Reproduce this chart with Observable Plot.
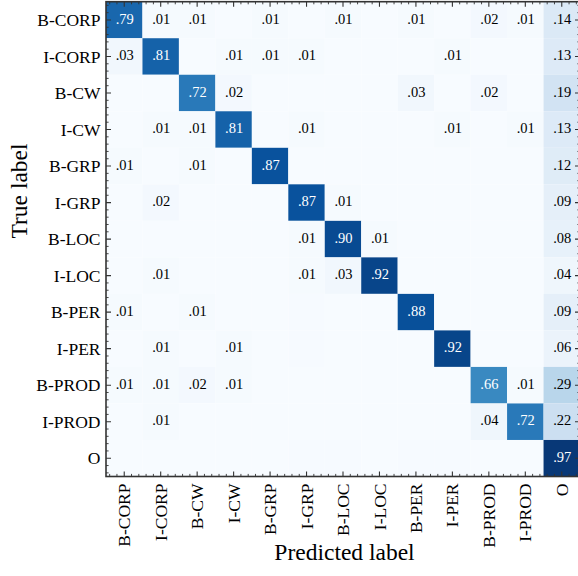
<!DOCTYPE html>
<html><head><meta charset="utf-8">
<script src="https://cdn.jsdelivr.net/npm/d3@7"></script>
<script src="https://cdn.jsdelivr.net/npm/@observablehq/plot@0.6"></script>
<style>
html,body{margin:0;padding:0;background:#fff;}
#chart svg{display:block;}
#chart svg, #chart svg text{font-family:"Liberation Serif", serif !important;}
</style>
</head><body><div id="chart"></div>
<script>
// Tick labels (true label rows, predicted label columns share the same classes)
const labels = ["B-CORP","I-CORP","B-CW","I-CW","B-GRP","I-GRP","B-LOC","I-LOC","B-PER","I-PER","B-PROD","I-PROD","O"];
// One row of normalised values per true label (columns in label order)
const rowBCORP = [.79,.01,.01,0,.01,0,.01,0,.01,0,.02,.01,.14];
const rowICORP = [.03,.81,0,.01,.01,.01,0,0,0,.01,0,0,.13];
const rowBCW   = [0,0,.72,.02,0,0,0,0,.03,0,.02,0,.19];
const rowICW   = [0,.01,.01,.81,0,.01,0,0,0,.01,0,.01,.13];
const rowBGRP  = [.01,0,.01,0,.87,0,0,0,0,0,0,0,.12];
const rowIGRP  = [0,.02,0,0,0,.87,.01,0,0,0,0,0,.09];
const rowBLOC  = [0,0,0,0,0,.01,.90,.01,0,0,0,0,.08];
const rowILOC  = [0,.01,0,0,0,.01,.03,.92,0,0,0,0,.04];
const rowBPER  = [.01,0,.01,0,0,.004,0,0,.88,0,0,0,.09];
const rowIPER  = [0,.01,0,.01,0,.004,0,0,0,.92,0,0,.06];
const rowBPROD = [.01,.01,.02,.01,0,0,0,0,0,0,.66,.01,.29];
const rowIPROD = [0,.01,0,0,0,0,0,0,0,0,.04,.72,.22];
const rowO     = [0,0,0,0,0,.004,.004,0,.004,.004,0,0,.97];

const rows = [rowBCORP,rowICORP,rowBCW,rowICW,rowBGRP,rowIGRP,rowBLOC,rowILOC,rowBPER,rowIPER,rowBPROD,rowIPROD,rowO];
const cells = [];
rows.forEach((r, i) => r.forEach((v, j) => cells.push({i, j, v})));
const fmt = v => { const r = Math.round(v * 100); return r === 0 ? "" : "." + String(r).padStart(2, "0"); };

const blues = ["#f7fbff","#deebf7","#c6dbef","#9ecae1","#6baed6","#4292c6","#2171b5","#08519c","#08306b"];
const idx = d3.range(labels.length);
const minor = d3.range(-2, 63).filter(k => k % 5 !== 0).map(k => k / 5);
const spine = "#333";

function frameAndTicks(index, {x, y}) {
  const x0 = x(-0.5), x1 = x(12.5), y0 = y(-0.5), y1 = y(12.5);
  const g = d3.create("svg:g").attr("fill", "none").attr("stroke", spine);
  const tick = (vals, len, w) => {
    let p = "";
    for (const v of vals) {
      const px = x(v), py = y(v);
      p += `M${px},${y0}v${len}M${px},${y1}v${-len}M${x0},${py}h${len}M${x1},${py}h${-len}`;
    }
    g.append("path").attr("d", p).attr("stroke-width", w);
  };
  tick(idx, 5, 1.1);
  tick(minor, 2.6, 0.9);
  g.append("rect").attr("x", x0).attr("y", y0).attr("width", x1 - x0).attr("height", y1 - y0).attr("stroke-width", 1.6);
  return g.node();
}

const chart = Plot.plot({
  width: 578, height: 576,
  marginLeft: 106, marginRight: -2, marginTop: 2, marginBottom: 100,
  x: {domain: [-0.5, 12.5], range: [106, 580]},
  y: {domain: [-0.5, 12.5], range: [1.7, 476.5]},
  color: {type: "linear", domain: d3.range(9).map(k => k / 8), range: blues, interpolate: "rgb"},
  style: {background: "white", color: "black"},
  marks: [
    Plot.rect(cells, {x1: d => d.j - 0.5, x2: d => d.j + 0.5, y1: d => d.i - 0.5, y2: d => d.i + 0.5, fill: "v"}),
    Plot.text(cells.filter(d => d.v <= 0.5), {x: "j", y: "i", text: d => fmt(d.v), fill: "black", fontSize: 14.5, dy: -1.5}),
    Plot.text(cells.filter(d => d.v > 0.5), {x: "j", y: "i", text: d => fmt(d.v), fill: "white", fontSize: 14.5, dy: -1.5}),
    Plot.axisY({ticks: idx, tickFormat: i => labels[i], tickSize: 0, tickPadding: 6, fontSize: 17.5, label: null}),
    Plot.axisX({ticks: idx, tickFormat: i => labels[i], tickSize: 0, tickPadding: 7, tickRotate: -90, fontSize: 17.5, label: null}),
    frameAndTicks,
    Plot.text(["True label"], {frameAnchor: "left", dx: -87, dy: -1, rotate: -90, fontSize: 23.5}),
    Plot.text(["Predicted label"], {frameAnchor: "bottom", dy: 83, dx: 1, fontSize: 23.5})
  ]
});
document.getElementById("chart").appendChild(chart);
</script>
</body></html>
